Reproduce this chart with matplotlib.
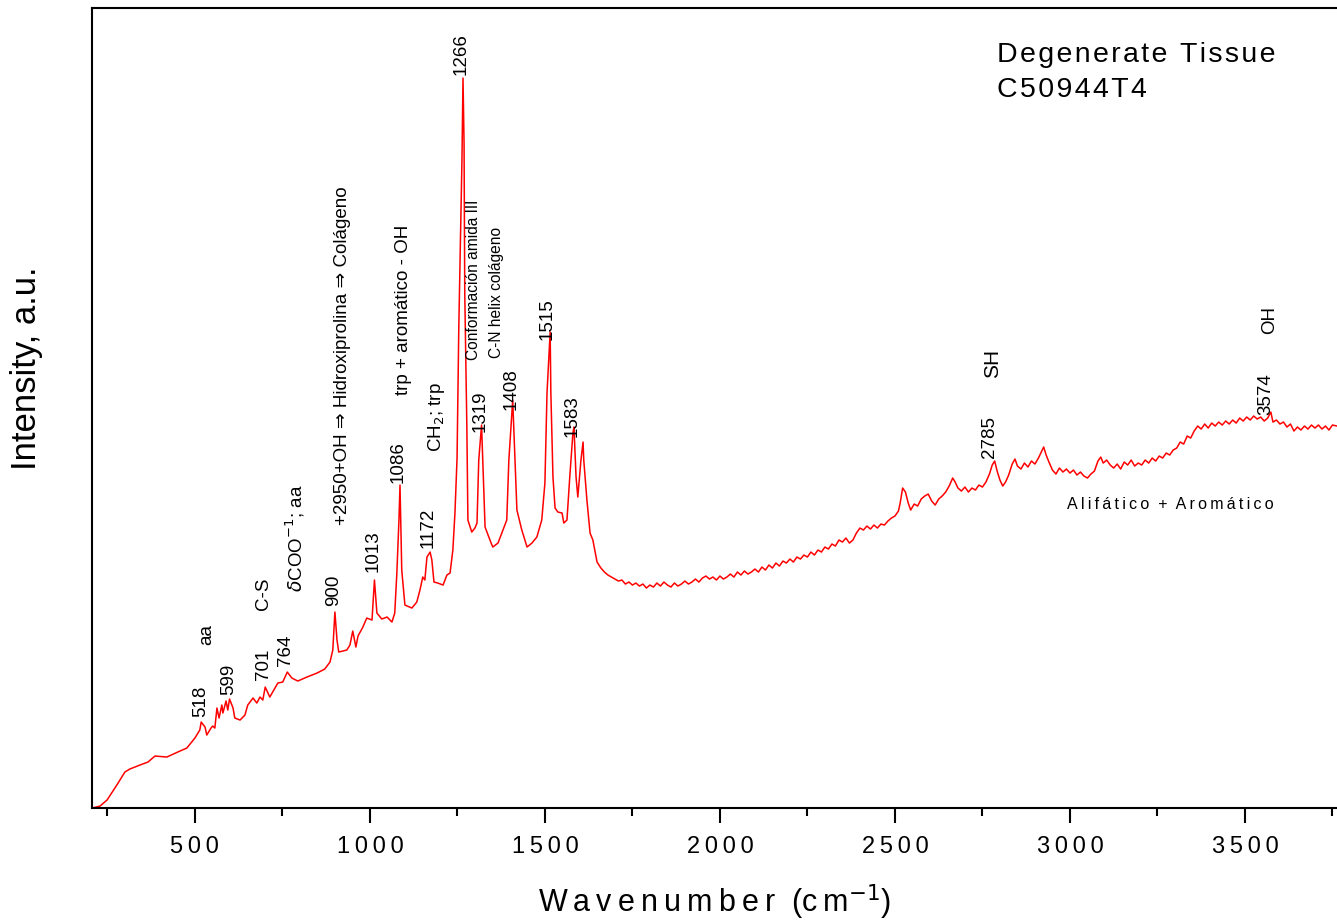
import matplotlib.pyplot as plt
from matplotlib.ticker import MultipleLocator, FuncFormatter

plt.rcParams['font.family'] = ['Liberation Sans', 'DejaVu Sans']

# spectrum (wavenumber, intensity a.u.)
wavenumber = [206, 229, 249, 277, 300, 314, 343, 366, 386, 420, 451, 477, 500, 514, 518,
              529, 534, 546, 551, 557, 563, 569, 577, 580, 589, 594, 599, 609, 614, 629,
              643, 651, 666, 677, 686, 694, 701, 714, 729, 737, 751, 764, 777, 794, 820,
              849, 871, 886, 894, 900, 906, 911, 934, 943, 951, 960, 966, 980, 991, 1006,
              1013, 1020, 1034, 1049, 1063, 1071, 1077, 1083, 1086, 1091, 1100, 1120, 1134,
              1143, 1151, 1157, 1163, 1172, 1177, 1183, 1194, 1209, 1220, 1229, 1237, 1243,
              1249, 1254, 1263, 1266, 1269, 1271, 1277, 1280, 1291, 1300, 1306, 1311, 1319,
              1323, 1329, 1343, 1351, 1366, 1380, 1391, 1397, 1408, 1411, 1420, 1434, 1449,
              1463, 1477, 1491, 1500, 1506, 1515, 1517, 1523, 1529, 1537, 1549, 1554, 1563,
              1571, 1580, 1583, 1589, 1594, 1603, 1609, 1611, 1620, 1629, 1637, 1649,
              1660, 1670, 1680, 1690, 1700, 1710, 1720, 1730, 1740, 1750, 1760, 1770, 1780,
              1790, 1800, 1810, 1820, 1830, 1840, 1850, 1860, 1870, 1880, 1890, 1900, 1910,
              1920, 1930, 1940, 1950, 1960, 1970, 1980, 1990, 2000, 2010, 2020, 2030, 2040,
              2050, 2060, 2070, 2080, 2090, 2100, 2110, 2120, 2130, 2140, 2150, 2160, 2170,
              2180, 2190, 2200, 2210, 2220, 2230, 2240, 2250, 2260, 2270, 2280, 2290, 2300,
              2310, 2320, 2330, 2340, 2350, 2360, 2370, 2380, 2390, 2400, 2410, 2420, 2430,
              2440, 2450, 2460, 2470, 2480, 2490, 2500, 2510, 2515, 2522, 2530, 2538, 2545,
              2555, 2565, 2575, 2585, 2595, 2605, 2615, 2625, 2635, 2645, 2655, 2665, 2672,
              2680, 2690, 2700, 2710, 2720, 2730, 2740, 2750, 2760, 2770, 2778, 2785, 2792,
              2800, 2808, 2816, 2825, 2835, 2843, 2850, 2860, 2870, 2880, 2890, 2900, 2910,
              2918, 2925, 2932, 2940, 2950, 2960, 2970, 2980, 2990, 3000, 3010, 3020, 3030,
              3040, 3050, 3060, 3070, 3080, 3088, 3095, 3105, 3115, 3125, 3135, 3145, 3155,
              3165, 3175, 3185, 3195, 3205, 3215, 3225, 3235, 3245, 3255, 3265, 3275, 3285,
              3295, 3305, 3315, 3325, 3335, 3345, 3355, 3365, 3375, 3385, 3395, 3405, 3415,
              3425, 3435, 3445, 3455, 3465, 3475, 3485, 3495, 3505, 3515, 3525, 3535, 3545,
              3555, 3565, 3574, 3580, 3590, 3600, 3610, 3620, 3630, 3640, 3650, 3660, 3670,
              3680, 3690, 3700, 3710, 3720, 3730, 3740, 3750, 3763]
intensity = [0, 2, 8, 23, 36, 39, 43, 46, 52, 51, 56, 60, 70, 78, 86,
             81, 73, 80, 82, 80, 100, 90, 103, 95, 107, 98, 109, 100, 90, 88,
             93, 103, 110, 105, 111, 108, 121, 111, 120, 125, 126, 136, 130, 127, 131,
             135, 139, 146, 158, 196, 168, 156, 158, 163, 177, 161, 172, 181, 190, 188,
             228, 195, 189, 191, 186, 195, 235, 288, 323, 238, 203, 200, 206,
             218, 231, 228, 251, 256, 248, 226, 225, 223, 233, 235, 258, 295,
             350, 481, 648, 730, 665, 515, 381, 288, 276, 280, 285, 348, 383,
             341, 281, 268, 261, 265, 278, 288, 348, 408, 381, 298, 278, 261,
             265, 271, 288, 325, 415, 476, 415, 331, 300, 296, 295, 285, 288,
             331, 375, 381, 331, 311, 348, 366, 348, 308, 275, 268, 246,
             240, 236, 233, 231, 229, 227, 228, 224, 226, 223, 225, 222, 224,
             220, 223, 221, 225, 222, 226, 223, 221, 225, 222, 224, 227, 224,
             226, 229, 226, 230, 232, 229, 231, 228, 232, 229, 231, 234, 231,
             236, 233, 237, 234, 236, 239, 236, 241, 238, 243, 240, 245, 242,
             247, 245, 249, 246, 251, 249, 253, 251, 256, 253, 258, 256, 261,
             259, 264, 262, 268, 266, 270, 265, 268, 275, 280, 278, 282, 279,
             283, 280, 284, 283, 287, 290, 292, 297, 305, 320, 316, 305, 298,
             304, 302, 309, 312, 314, 307, 303, 309, 312, 316, 322, 330, 326,
             320, 317, 321, 316, 320, 318, 323, 321, 326, 334, 343, 347, 337,
             328, 322, 326, 333, 344, 349, 342, 339, 345, 341, 347, 344, 350,
             356, 361, 353, 346, 338, 334, 340, 336, 339, 335, 338, 333, 336,
             332, 330, 334, 337, 347, 351, 345, 348, 343, 340, 344, 339, 346,
             343, 348, 342, 345, 343, 348, 345, 350, 347, 352, 350, 355, 353,
             358, 360, 366, 364, 372, 370, 377, 382, 379, 384, 380, 385, 382,
             386, 383, 387, 384, 388, 385, 390, 387, 391, 388, 392, 389, 391,
             387, 390, 396, 386, 388, 384, 386, 381, 384, 377, 381, 378, 382,
             379, 383, 380, 383, 379, 382, 378, 383, 382]

# peak / band labels: text, wavenumber, intensity of the label bottom, size
labels = [
    ("518", 517, 91, 13.5), ("aa", 534, 163, 13.5), ("599", 597, 113, 13.5),
    ("701", 697, 128, 13.5), ("C-S", 697, 198, 13.5), ("764", 760, 142, 13.5),
    (r"$\delta$COO$^{-1}$; aa", 786, 216, 13.5), ("900", 897, 202, 13.5),
    ("+2950+OH \u21d2 Hidroxiprolina \u21d2 Colágeno", 923, 283, 13.5),
    ("1013", 1008, 236, 13.5), ("1086", 1080, 325, 13.5),
    ("trp + aromático - OH", 1097, 413, 13.5), ("1172", 1166, 260, 13.5),
    ("CH$_2$; trp", 1189, 356, 13.5), ("1266", 1262, 733, 13.5),
    ("Conformación amida III", 1297, 448, 11.2), ("C-N helix colágeno", 1363, 450, 11.2),
    ("1319", 1314, 376, 13.5), ("1408", 1403, 398, 13.5), ("1515", 1506, 468, 13.5),
    ("1583", 1577, 371, 13.5), ("SH", 2780, 430, 15), ("2785", 2771, 350, 13.5),
    ("3574", 3560, 393, 13.5), ("OH", 3571, 474, 13.5),
]


def spaced(s, sep='\u2009'):
    return sep.join(s)


fig = plt.figure(figsize=(13.37, 9.22), dpi=100)
ax = fig.add_axes([0.0688, 0.1236, 0.9312, 0.8677])
ax.plot(wavenumber, intensity, color='#ff0000', lw=1.1)

for txt, w, y, fs in labels:
    ax.text(w, y, txt, rotation=90, ha='center', va='bottom', fontsize=fs)

# sample name, top right
ax.text(0.727, 0.932, spaced("Degenerate Tissue", '\u200a'), transform=ax.transAxes,
        fontsize=20.5)
ax.text(0.727, 0.889, spaced("C50944T4", '\u200a'), transform=ax.transAxes, fontsize=20.5)
ax.text(3287, 304, spaced("Alifático") + "  +  " + spaced("Aromático"), ha='center',
        va='center', fontsize=11.5)

ax.set_xlim(206, 3763)
ax.set_ylim(0, 800)
ax.xaxis.set_major_locator(MultipleLocator(500))
ax.xaxis.set_minor_locator(MultipleLocator(250))
ax.xaxis.set_major_formatter(FuncFormatter(lambda v, p: spaced(str(int(v)))))
ax.tick_params(axis='x', which='major', direction='out', length=11, width=1.5,
               labelsize=17, pad=9)
ax.tick_params(axis='x', which='minor', direction='out', length=6, width=1.5)
ax.set_yticks([])
ax.spines['right'].set_visible(False)
for s in ['left', 'top', 'bottom']:
    ax.spines[s].set_linewidth(1.5)

ax.set_xlabel(spaced("Wavenumber") + "  (" + spaced("cm") + "$^{-1}$)", fontsize=22,
              labelpad=18)
ax.set_ylabel("Intensity, a.u.", fontsize=25)
ax.yaxis.set_label_coords(-0.039, 0.55)

fig.savefig("out.png", dpi=100)
